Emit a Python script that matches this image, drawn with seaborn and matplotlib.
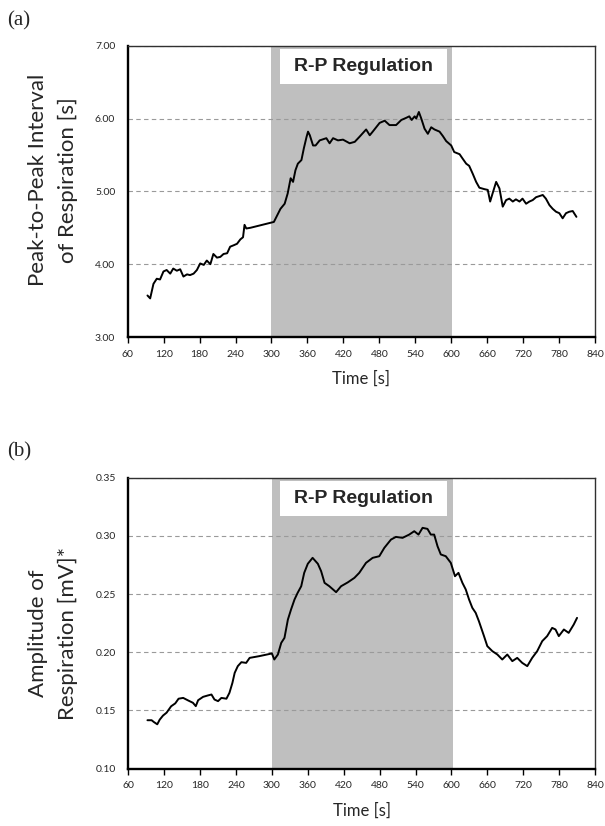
import matplotlib
matplotlib.use("Agg")
import matplotlib.pyplot as plt
from matplotlib.patches import Rectangle
import seaborn as sns
import pandas as pd

# ---------------- data ----------------
time_ticks = list(range(60, 841, 60))
interval_yticks = [3.0, 4.0, 5.0, 6.0, 7.0]
amp_yticks = [0.10, 0.15, 0.20, 0.25, 0.30, 0.35]
regulation_start = 300
regulation_end = 602
box_label = "R-P Regulation"

t_int = [93, 97.5, 103, 108.5, 114, 119.7, 125, 131, 136, 142,
         147.6, 153, 159, 164, 170, 175.5, 181, 187, 192, 198,
         203, 209, 214.6, 220, 226, 231, 237, 242.5, 248, 252.5,
         255, 258, 265, 304, 309.5, 315, 322, 327, 332, 336,
         340, 344, 350, 354, 358.6, 361, 364, 369.4, 373.6, 380.5,
         391.6, 397, 402.8, 411, 419.4, 430.5, 439, 447, 458, 464,
         469, 480.5, 489, 497, 508, 516.7, 525, 530, 534, 539,
         541.6, 546, 550, 555.5, 561, 566.6, 572, 580.5, 586, 591.6,
         600, 605, 614, 619, 625, 630, 636, 641.6, 647, 655.5,
         661, 665, 669, 675, 680.5, 686, 691.6, 697, 702.8, 708,
         714, 719, 725, 730.5, 736, 741.7, 752.8, 758, 764, 769.4,
         775, 780.5, 786, 791.6, 797, 802.8, 809]
v_int = [3.57, 3.53, 3.73, 3.80, 3.79, 3.90, 3.92, 3.87, 3.94, 3.91,
         3.93, 3.83, 3.86, 3.85, 3.87, 3.92, 4.01, 3.99, 4.05, 4.00,
         4.14, 4.09, 4.10, 4.14, 4.15, 4.24, 4.26, 4.28, 4.34, 4.37,
         4.54, 4.49, 4.50, 4.58, 4.67, 4.76, 4.83, 4.97, 5.18, 5.13,
         5.29, 5.38, 5.43, 5.59, 5.75, 5.82, 5.77, 5.63, 5.63, 5.70,
         5.73, 5.66, 5.73, 5.70, 5.71, 5.66, 5.68, 5.75, 5.85, 5.77,
         5.82, 5.94, 5.97, 5.91, 5.91, 5.98, 6.01, 6.03, 5.98, 6.03,
         6.00, 6.09, 6.00, 5.86, 5.79, 5.88, 5.85, 5.82, 5.76, 5.69,
         5.63, 5.54, 5.51, 5.45, 5.38, 5.35, 5.24, 5.13, 5.05, 5.03,
         5.02, 4.86, 4.97, 5.13, 5.04, 4.79, 4.88, 4.90, 4.86, 4.89,
         4.86, 4.90, 4.83, 4.86, 4.88, 4.92, 4.95, 4.90, 4.81, 4.76,
         4.72, 4.70, 4.63, 4.70, 4.72, 4.73, 4.65]

t_amp = [92, 99, 102.6, 108.4, 112.5, 118, 124, 131.6, 138.5, 144,
         151.7, 160, 168, 172.8, 176.7, 185, 193, 199, 204, 210,
         215.6, 224, 229, 234, 237.8, 243, 249, 257, 262.8, 279,
         300, 304, 310, 315.6, 321, 326.7, 332, 337.8, 343, 349,
         354, 360, 368, 376.8, 382.3, 388, 396, 407.3, 415.6, 426.8,
         437.9, 446, 457.3, 468.4, 479.5, 487.9, 499, 507.3, 518.4, 529.5,
         537.9, 545, 551.8, 560, 565.6, 571.2, 576.8, 582.3, 590.6, 599,
         606, 611.8, 618.4, 624, 629.5, 635, 640.6, 646, 654.5, 660,
         668.4, 676.8, 685, 693.4, 701.8, 710, 718.4, 726.8, 735, 743.4,
         751.8, 760, 768.4, 774, 779.5, 788, 796, 804.5, 810]
v_amp = [0.1415, 0.1415, 0.140, 0.138, 0.142, 0.1455, 0.148, 0.1535, 0.156, 0.160,
         0.1607, 0.1585, 0.1565, 0.1536, 0.1587, 0.1616, 0.1628, 0.1636, 0.1593, 0.1579,
         0.1607, 0.160, 0.165, 0.1736, 0.1822, 0.188, 0.1914, 0.1908, 0.1951, 0.1966,
         0.1989, 0.1937, 0.198, 0.208, 0.2123, 0.228, 0.2367, 0.2453, 0.251, 0.2567,
         0.2682, 0.276, 0.2811, 0.276, 0.2696, 0.2596, 0.2567, 0.2516, 0.2567, 0.260,
         0.2639, 0.2682, 0.2768, 0.2811, 0.2825, 0.2897, 0.2968, 0.2991, 0.2983, 0.3011,
         0.304, 0.3011, 0.3069, 0.306, 0.3011, 0.3011, 0.2911, 0.284, 0.2825, 0.2768,
         0.2653, 0.2682, 0.2596, 0.2539, 0.2453, 0.2381, 0.2338, 0.2266, 0.2138, 0.2052,
         0.2009, 0.198, 0.1937, 0.198, 0.1923, 0.1951, 0.1908, 0.188, 0.1951, 0.2009,
         0.2095, 0.2138, 0.2209, 0.2195, 0.2138, 0.2195, 0.2166, 0.2238, 0.2295]

# ---------------- style ----------------
sns.set_style("white")
plt.rcParams['font.family'] = ['Lato', 'DejaVu Sans']

W, H = 605, 826
fig = plt.figure(figsize=(W / 100, H / 100), dpi=100)


def make_panel(rect, t, v, yticks, fmt, ylabel, ylab_center_y, letter, letter_y):
    ax = fig.add_axes(rect)
    df = pd.DataFrame({"Time": t, "Value": v})
    ax.axvspan(regulation_start, regulation_end, color="#bfbfbf", zorder=0, lw=0)
    sns.lineplot(data=df, x="Time", y="Value", ax=ax, color="black",
                 lw=1.4, estimator=None, sort=False, zorder=3)
    ax.set_xlim(time_ticks[0], time_ticks[-1])
    ax.set_ylim(yticks[0], yticks[-1])
    ax.set_xticks(time_ticks)
    ax.set_yticks(yticks)
    ax.set_yticklabels([fmt.format(y) for y in yticks])
    ax.set_axisbelow(True)
    ax.yaxis.grid(True, color="#9a9a9a", lw=0.8, ls=(0, (4, 3)))
    ax.xaxis.grid(False)
    for s in ["left", "bottom"]:
        ax.spines[s].set_linewidth(1.7)
        ax.spines[s].set_color("black")
    for s in ["top", "right"]:
        ax.spines[s].set_linewidth(1.0)
        ax.spines[s].set_color("#303030")
    ax.tick_params(axis="x", direction="out", length=4, width=1, pad=5,
                   labelsize=7.5, bottom=True, color="black")
    ax.tick_params(axis="y", length=0, pad=9, labelsize=7.5)
    ax.set_xlabel("Time [s]", fontsize=12, labelpad=9)
    ax.set_ylabel("")
    # white label box
    ax.add_patch(Rectangle((0.326, 0.870), 0.357, 0.118, transform=ax.transAxes,
                           facecolor="white", edgecolor="none", zorder=2))
    ax.text(0.5045, 0.929, box_label, transform=ax.transAxes, ha="center", va="center",
            fontsize=14, fontweight="bold",
            family=["Liberation Sans", "DejaVu Sans"], zorder=4)
    fig.text(53 / W, 1 - ylab_center_y / H, ylabel, rotation=90, ha="center",
             va="center", multialignment="center", fontsize=16, linespacing=1.6)
    fig.text(7 / W, 1 - letter_y / H, letter, ha="left", va="center", fontsize=15,
             family=["Liberation Serif", "DejaVu Serif"])
    return ax


make_panel([127.7 / W, (H - 337) / H, (595 - 127.7) / W, 291.3 / H],
           t_int, v_int, interval_yticks, "{:.2f}",
           "Peak-to-Peak Interval\nof Respiration [s]", 180, "(a)", 21)
make_panel([128.3 / W, (H - 768.5) / H, (595 - 128.3) / W, 290.8 / H],
           t_amp, v_amp, amp_yticks, "{:.2f}",
           "Amplitude of\nRespiration [mV]*", 633, "(b)", 452)

fig.savefig("out.png", dpi=100)
